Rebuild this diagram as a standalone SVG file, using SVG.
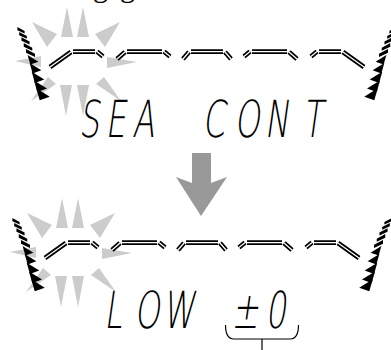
<svg xmlns="http://www.w3.org/2000/svg" xmlns:xlink="http://www.w3.org/1999/xlink" width="391" height="350" viewBox="0 0 391 350">
<style>
.spk{fill:#cccccc}
.segO{fill:none;stroke:#000;stroke-width:4.8}
.segI{fill:none;stroke:#fff;stroke-width:1.2}
.lcd{font-family:"DejaVu Sans","Liberation Sans",sans-serif;font-weight:200;font-size:51px;fill:#000}
.hd{font-family:"Liberation Serif",serif;font-size:30px;fill:#000}
.brace{fill:none;stroke:#000;stroke-width:1.2}
</style>
<defs>
<path id="mk" d="M-0.45,-0.38 L0.45,0.18 L-0.22,0.42 Z"/>
<path id="dk" d="M-0.45,-0.36 L0.45,0.12 L0.45,0.45 L-0.45,0.02 Z"/>
<g id="star">
<polygon class="spk" points="67,7 61,37 73,37"/>
<polygon class="spk" points="83,7 77,37 89,37"/>
<polygon class="spk" points="32,22 57,34 47,47"/>
<polygon class="spk" points="120,22 95,34 105,47"/>
<polygon class="spk" points="15,61 41,56 41,67"/>
<polygon class="spk" points="137,62 107,57 107,68"/>
<polygon class="spk" points="31,101 48,77 56,84"/>
<polygon class="spk" points="121,101 104,77 96,84"/>
<polygon class="spk" points="66,116 60,85 72,85"/>
<polygon class="spk" points="83,116 77,85 89,85"/>
</g>
<g id="hatch">
<use href="#dk" transform="translate(21,30) scale(8)"/>
<use href="#dk" transform="translate(23,35) scale(8.5)"/>
<use href="#dk" transform="translate(25.5,40.5) scale(9)"/>
<use href="#dk" transform="translate(28,46.5) scale(9.5)"/>
<use href="#dk" transform="translate(30.5,52.5) scale(10)"/>
<use href="#mk" transform="translate(33,59.5) scale(12)"/>
<use href="#mk" transform="translate(35.5,68) scale(13)"/>
<use href="#mk" transform="translate(38,77) scale(14)"/>
<use href="#mk" transform="translate(40.5,86) scale(14.5)"/>
<use href="#mk" transform="translate(43,94) scale(15)"/>
</g>
<path id="barp" d="M50,67 L71,52 M73,51.7 H95 M97,51.5 L103,56.5 M117,59 L125,52 M127,51.7 H162 M164,51.5 L170,56.5 M183,59 L189,52 M191,51.7 H223 M225,52 L231,59 M244,56.5 L250,51.5 M252,51.7 H287 M289,52 L297,59 M311,56.5 L317,51.5 M319,51.7 H341 M343,52 L364,67"/>
<g id="panel">
<use href="#star"/>
<use href="#hatch"/>
<use href="#hatch" transform="translate(414,0) scale(-1,1)"/>
<use href="#barp" class="segO"/>
<use href="#barp" class="segI"/>
</g>
</defs>

<g id="heading">
<text class="hd"><tspan x="93" y="-3.5">g</tspan><tspan x="120" y="-3.5">g</tspan></text>
</g>

<g id="display1">
<use href="#panel"/>
<g transform="translate(0,137) skewX(-8) scale(0.63,1)">
<text class="lcd"><tspan x="125" y="0">S</tspan><tspan x="167" y="0">E</tspan><tspan x="210" y="0">A</tspan><tspan x="321" y="0">C</tspan><tspan x="372" y="0">O</tspan><tspan x="420" y="0">N</tspan><tspan x="480" y="0">T</tspan></text>
</g>
</g>

<g id="arrow">
<polygon fill="#999999" points="192,153 211,153 211,183 227,177 201,216 176,177 192,183"/>
</g>

<g id="display2">
<g transform="translate(-5,191)"><use href="#panel"/></g>
<g transform="translate(0,328) skewX(-8) scale(0.63,1)">
<text class="lcd"><tspan x="165" y="0">L</tspan><tspan x="213" y="0">O</tspan><tspan x="258" y="0">W</tspan><tspan x="368" y="0">±</tspan><tspan x="421" y="0">0</tspan></text>
</g>
</g>

<g id="connectors">
<path class="brace" d="M225.5,325 C225.5,334 227.5,339 234,339 L290,339 C296.5,339 298.5,334 298.5,325 M262,339 V350"/>
</g>
</svg>
